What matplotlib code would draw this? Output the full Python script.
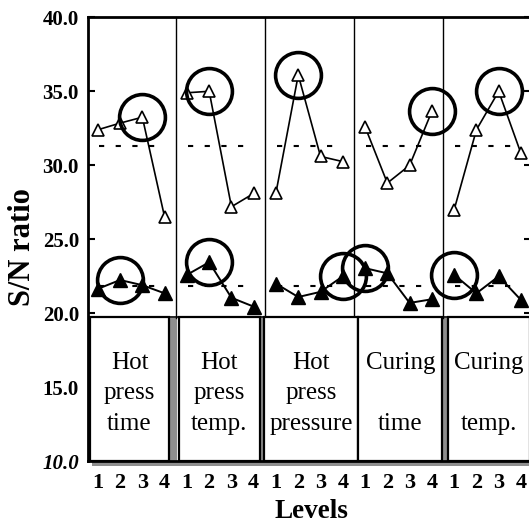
import matplotlib
matplotlib.use("Agg")
import matplotlib.pyplot as plt
from matplotlib.patches import Rectangle
import numpy as np

# ---------------- data ----------------
factors = ["Hot\npress\ntime", "Hot\npress\ntemp.", "Hot\npress\npressure",
           "Curing\n\ntime", "Curing\n\ntemp."]
levels = [1, 2, 3, 4]
open_sn = [
    [32.4, 32.85, 33.25, 26.5],
    [34.9, 35.0, 27.2, 28.1],
    [28.15, 36.1, 30.6, 30.25],
    [32.6, 28.8, 30.0, 33.65],
    [27.0, 32.4, 35.0, 30.8],
]
filled_sn = [
    [21.65, 22.25, 21.9, 21.35],
    [22.6, 23.45, 21.05, 20.45],
    [22.0, 21.1, 21.45, 22.5],
    [23.05, 22.7, 20.7, 20.95],
    [22.6, 21.35, 22.5, 20.9],
]
yticks = [10, 15, 20, 25, 30, 35, 40]
ytick_labels = ["10.0", "15.0", "20.0", "25.0", "30.0", "35.0", "40.0"]

# ---------------- figure ----------------
W, H = 529, 524
fig = plt.figure(figsize=(W / 100, H / 100), dpi=100)
ax = fig.add_axes([88 / W, 1 - 461.3 / H, (531 - 88) / W, (461.3 - 17.3) / H])
ax.set_xlim(0.56, 20.45)
ax.set_ylim(10, 40)

serif = ["Liberation Serif", "DejaVu Serif"]

npan = len(factors)
for i in range(npan):
    xs = [4 * i + j for j in levels]
    ax.plot(xs, open_sn[i], color="black", lw=1.2, marker="^", ms=8.5,
            mfc="white", mec="black", mew=1.2, zorder=4)
    ax.plot(xs, filled_sn[i], color="black", lw=1.4, marker="^", ms=9.5,
            mfc="black", mec="black", mew=1.0, zorder=4)
    for ser in (open_sn[i], filled_sn[i]):
        k = int(np.argmax(ser))
        ax.plot([xs[k]], [ser[k]], marker="o", ms=33, mfc="none", mec="black",
                mew=2.6, zorder=5)

# overall mean dashed lines
m_open = np.mean(open_sn)
m_fill = np.mean(filled_sn)
for i in range(npan):
    for m in (m_open, m_fill):
        ax.plot([4 * i + 1.05, 4 * i + 3.75], [m, m], color="black", lw=1.5,
                ls=(0, (2.5, 5.5)), zorder=3)

# panel dividers (upper part)
for i in range(1, npan):
    ax.plot([4 * i + 0.5, 4 * i + 0.5], [19.7, 40], color="black", lw=1.0, zorder=2)
ax.axhline(19.75, color="black", lw=1.2, zorder=2)

# factor boxes in the lower part
box_edges = [(0.66, 4.19), (4.64, 8.27), (8.45, 12.70), (12.70, 16.46), (16.73, 20.40)]
shadows = [(4.19, 4.55), (8.27, 8.49), None, (16.46, 16.73), None]
shade = "#8e8e8e"
for (l, r), sh, lab in zip(box_edges, shadows, factors):
    if sh is not None:
        ax.add_patch(Rectangle((sh[0], 10.0), sh[1] - sh[0], 9.7, facecolor=shade,
                               edgecolor="none", zorder=1))
    ax.add_patch(Rectangle((l, 10.05), r - l, 9.7, facecolor="white",
                           edgecolor="black", lw=1.6, zorder=2))
    ax.text((l + r) / 2, 14.6, lab, ha="center", va="center", fontsize=18,
            family=serif, linespacing=1.5, zorder=3)
ax.add_patch(Rectangle((0.75, 9.70), 19.8, 0.30, facecolor=shade, edgecolor="none",
                       clip_on=False, zorder=1))

# axes styling
for s in ("left", "top", "bottom", "right"):
    ax.spines[s].set_linewidth(2.0)
ax.set_yticks(yticks)
ax.set_yticklabels(ytick_labels)
ax.tick_params(axis="y", which="both", direction="in", length=5, width=1.5,
               right=True, pad=6.5)
for t in ax.get_yticklabels():
    t.set_fontfamily(serif)
    t.set_fontweight("bold")
    t.set_fontsize(15)
ax.get_yticklabels()[0].set_fontstyle("italic")

xt = [4 * i + j for i in range(npan) for j in levels]
ax.set_xticks(xt)
ax.set_xticklabels([str(j) for i in range(npan) for j in levels])
ax.tick_params(axis="x", length=0, pad=8.5)
for t in ax.get_xticklabels():
    t.set_fontfamily(serif)
    t.set_fontweight("bold")
    t.set_fontsize(16)

fig.text(23 / W, 1 - 247 / H, "S/N ratio", rotation=90, ha="center", va="center",
         fontsize=22, fontweight="bold", family=serif)
fig.text(311 / W, 1 - 511 / H, "Levels", ha="center", va="center",
         fontsize=19.5, fontweight="bold", family=serif)

fig.savefig("out.png", dpi=100)
